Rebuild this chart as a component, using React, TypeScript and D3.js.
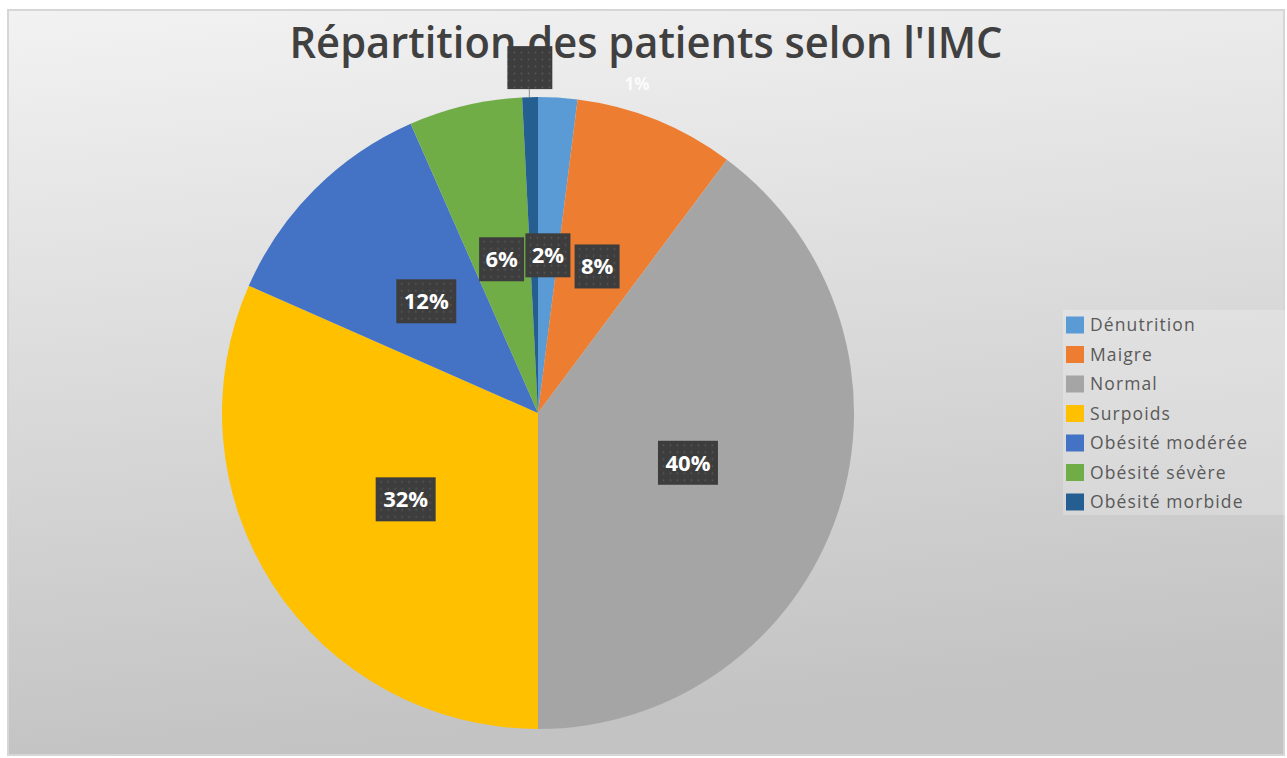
import React from "react";
import * as d3 from "d3";

const categories = [
  "Dénutrition",
  "Maigre",
  "Normal",
  "Surpoids",
  "Obésité modérée",
  "Obésité sévère",
  "Obésité morbide",
];
const shares = [2.0, 8.2, 39.8, 31.6, 11.8, 5.8, 0.8];
const colors = ["#5B9BD5", "#ED7D31", "#A5A5A5", "#FFC000", "#4472C4", "#70AD47", "#255E91"];

const W = 1287;
const H = 758;

export default function App() {
  const cx = 538;
  const cy = 413;
  const R = 316;

  const total = d3.sum(shares);
  const pct = (v: number) => `${Math.round((v / total) * 100)}%`;

  const pie = d3.pie<number>().sort(null).value((d) => d);
  const arcs = pie(shares);
  const arc = d3.arc<d3.PieArcDatum<number>>().innerRadius(0).outerRadius(R);

  // petit secteur (1%) : étiquette sortie au-dessus du camembert
  const small = arcs[6];
  const midA = (small.startAngle + small.endAngle) / 2;
  const outR = R + 29;
  const smallX = cx + Math.sin(midA) * outR;
  const smallY = cy - Math.cos(midA) * outR;

  const legendY = d3.scalePoint<string>().domain(categories).range([325, 502]);

  return (
    <svg
      width={W}
      height={H}
      style={{ position: "absolute", left: 0, top: 0, display: "block" }}
      fontFamily="'Open Sans', 'DejaVu Sans', sans-serif"
    >
      <defs>
        <linearGradient id="bg" x1="0" y1="0" x2="0.15" y2="1">
          <stop offset="0" stopColor="#f2f2f2" />
          <stop offset="1" stopColor="#c3c3c3" />
        </linearGradient>
        <pattern id="dots" width="7" height="7" patternUnits="userSpaceOnUse">
          <rect width="7" height="7" fill="#3d3d3d" />
          <circle cx="3.5" cy="3.5" r="0.9" fill="#575757" />
        </pattern>
      </defs>

      <rect x={8} y={10} width={1276} height={745} fill="url(#bg)" stroke="#d6d6d6" strokeWidth={2} />

      {/* legende */}
      <rect x={1063} y={310} width={224} height={205} fill="#ffffff" opacity={0.22} />
      {categories.map((c, i) => (
        <g key={c} transform={`translate(1066,${legendY(c)})`}>
          <rect x={0} y={-8.5} width={18} height={17} fill={colors[i]} />
          <text x={24} y={0} dy="0.35em" fontSize={17.5} fill="#595959" letterSpacing={1.1}>
            {c}
          </text>
        </g>
      ))}

      <g transform={`translate(${cx},${cy})`}>
        {arcs.map((a, i) => (
          <path key={categories[i]} d={arc(a) || ""} fill={colors[i]} />
        ))}

        {arcs.slice(0, 6).map((a, i) => {
          const [x, y] = arc.centroid(a);
          const txt = pct(a.value);
          const bw = txt.length > 2 ? 60 : 45;
          return (
            <g key={"l" + i} transform={`translate(${x},${y})`}>
              <rect x={-bw / 2} y={-22} width={bw} height={44} fill="url(#dots)" />
              <text
                textAnchor="middle"
                dy="0.36em"
                fontSize={22}
                fontWeight={700}
                fill="#ffffff"
              >
                {txt}
              </text>
            </g>
          );
        })}
      </g>

      <text
        x={646}
        y={58}
        textAnchor="middle"
        fontSize={43}
        fontWeight={600}
        fill="#404040"
        textLength={713}
        lengthAdjust="spacingAndGlyphs"
      >
        Répartition des patients selon l'IMC
      </text>

      {/* 1% : boîte par-dessus le titre, texte décalé à droite */}
      <line x1={smallX} y1={smallY + 21} x2={smallX} y2={cy - R} stroke="#8c8c8c" strokeWidth={1} />
      <rect x={smallX - 22} y={smallY - 22} width={45} height={43} fill="url(#dots)" />
      <text x={637} y={84} textAnchor="middle" dy="0.35em" fontSize={17} fontWeight={700} fill="#ffffff" opacity={0.85}>
        {pct(small.value)}
      </text>
    </svg>
  );
}
